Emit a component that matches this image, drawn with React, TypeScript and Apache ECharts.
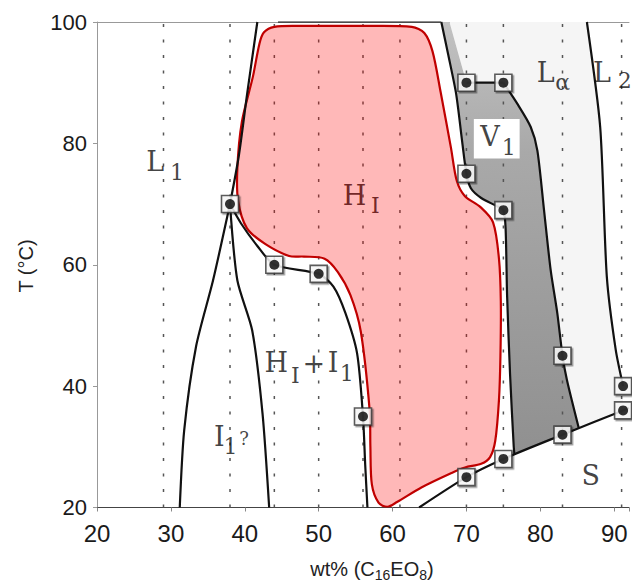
import React, { useEffect, useRef } from "react";
import * as echarts from "echarts";

// ---- axes ----
const xMin = 20;
const xMax = 92;
const yMin = 20;
const yMax = 100;
const xTickStep = 10;
const yTickStep = 20;

// dotted vertical guide lines (wt%)
const dottedX = [29, 38, 44, 50, 56, 61, 70, 75, 83, 91];

// measured points (wt%, T)
const markers = [
  [38, 70], [44, 60], [50, 58.5], [56, 35],
  [70, 90], [75, 90], [70, 75], [75, 69],
  [83, 45], [83, 32], [75, 28], [70, 25],
  [91.2, 40], [91.2, 36],
];

// phase boundaries (wt%, T)
const lineL1H = [[38, 70], [39.2, 78], [40.3, 88], [41.7, 100]];
const lineI1Left = [[38, 70], [35.7, 57.4], [33.4, 46.5], [31.8, 32.7], [31.2, 20]];
const lineI1Right = [[38, 70], [39, 57.4], [41, 49.2], [42.4, 35.5], [43.3, 20]];
const lineHIlower = [[38, 70], [39.5, 66.8], [41.7, 63.1], [44, 60], [50, 58.5], [52, 56.4], [53.6, 52.1], [55.2, 45.4], [56, 35], [56.3, 27], [56.6, 20]];
const lineHIright = [[66.6, 100], [67.5, 94.8], [68.6, 88.2], [69.4, 80.5], [70, 75], [70.6, 72.6], [72, 71], [74.2, 69.6], [75, 69], [75.3, 66], [75.5, 55], [75.9, 42], [76.4, 30], [76.5, 28.75]];
const lineV1top = [[70, 90], [75, 90]];
const lineV1right = [[75, 90], [76.9, 86.5], [78.7, 82.7], [79.6, 78.8], [80.5, 69], [81.4, 59.1], [82.3, 52], [83, 45], [83.6, 41], [85.2, 33.1]];
const lineS = [[63.6, 20], [70, 25], [75, 28], [83, 32], [91.2, 36], [92, 36.4]];
const lineL2 = [[86.3, 100], [88.1, 82.7], [89, 58], [90.2, 46], [91.2, 40]];
const lineTopEdge = [[44.5, 100], [66.6, 100]];

// regions
const hiRegion = [
  [42.6, 98.3], [44, 99.2], [47.6, 99.35], [55.8, 99.35], [62.6, 99.2], [64.3, 98.2], [65.4, 95.2],
  [66.5, 88.5], [67.9, 79.3], [68.7, 73.8], [69.8, 71.3], [71.9, 69.5], [73.6, 67], [74.4, 61],
  [74.65, 54], [74.6, 45], [74.4, 37.7], [73.9, 31], [73.2, 28.3], [72, 27.2], [69.8, 26.6],
  [68, 25.7], [63.9, 23.3], [60.6, 20.9], [59.3, 20.1], [58.1, 20.8], [57.2, 23.8], [57, 30],
  [56.9, 36], [55.7, 49], [54.3, 55], [52.6, 58.8], [50.8, 61], [48, 61.35], [46, 61.45],
  [42.8, 63.4], [40.3, 66], [39.1, 70.5], [39, 76], [39.6, 83.5], [41.1, 91], [42, 96.5],
];
const v1Region = [
  [66.6, 100], [67.5, 94.8], [68.6, 88.2], [69.4, 80.5], [70, 75], [70.6, 72.6], [72, 71], [74.2, 69.6],
  [75, 69], [75.3, 66], [75.5, 55], [75.9, 42], [76.4, 30], [76.5, 28.75], [83, 32], [85.2, 33.1],
  [83.6, 41], [83, 45], [82.3, 52], [81.4, 59.1], [80.5, 69], [79.6, 78.8], [78.7, 82.7], [76.9, 86.5],
  [75, 90], [70, 90], [67.7, 100],
];
const laRegion = [
  [67.7, 100], [70, 90], [75, 90], [76.9, 86.5], [78.7, 82.7], [79.6, 78.8], [80.5, 69], [81.4, 59.1],
  [82.3, 52], [83, 45], [83.6, 41], [85.2, 33.1], [91.2, 36], [91.2, 40], [90.2, 46], [89, 58],
  [88.1, 82.7], [86.3, 100],
];
const v1LabelBox = [[71, 84], [77.2, 84], [77.2, 77.5], [71, 77.5]];

// phase labels: text, wt%, T (left edge / vertical centre), font size
const phaseLabels = [
  { text: "L", x: 26.6, y: 77.05, size: 27 },
  { text: "1", x: 29.8, y: 75.2, size: 22 },
  { text: "H", x: 53.2, y: 71.35, size: 27, color: "#4d0000" },
  { text: "I", x: 57.0, y: 69.8, size: 22, color: "#4d0000" },
  { text: "H", x: 42.6, y: 43.97, size: 27 },
  { text: "I", x: 46.2, y: 41.7, size: 22 },
  { text: "+", x: 47.75, y: 43.7, size: 27 },
  { text: "I", x: 51.15, y: 43.97, size: 27 },
  { text: "1", x: 52.8, y: 42.1, size: 22 },
  { text: "I", x: 35.75, y: 31.76, size: 27 },
  { text: "1", x: 37.05, y: 30.1, size: 22 },
  { text: "?", x: 39.2, y: 31.35, size: 18 },
  { text: "V", x: 71.8, y: 81.2, size: 27 },
  { text: "1", x: 74.7, y: 79.4, size: 22 },
  { text: "L", x: 79.45, y: 91.6, size: 27 },
  { text: "α", x: 81.95, y: 90.1, size: 22 },
  { text: "L", x: 87.05, y: 91.6, size: 27 },
  { text: "2", x: 90.4, y: 90.4, size: 22 },
  { text: "S", x: 85.5, y: 25.3, size: 27 },
];

const xTitleParts = [
  { t: "wt% (C", sub: false },
  { t: "16", sub: true },
  { t: "EO", sub: false },
  { t: "8", sub: true },
  { t: ")", sub: false },
];
const yTitle = "T (°C)";

const SANS = "'Liberation Sans', Arial, sans-serif";
const SERIF = "'DejaVu Serif', serif";

function polySeries(pts: number[][], style: any, z: number, smooth = 0) {
  return {
    type: "custom",
    coordinateSystem: "cartesian2d",
    silent: true,
    z,
    clip: true,
    data: [pts[0]],
    renderItem: (_p: any, api: any) => ({
      type: "polygon",
      shape: { points: pts.map((p) => api.coord(p)), smooth },
      style,
    }),
  };
}

function lineSeries(pts: number[][], z: number, width = 2.2, smooth = 0.25, color = "#111") {
  return {
    type: "line",
    data: pts,
    z,
    silent: true,
    symbol: "none",
    smooth,
    clip: true,
    lineStyle: { color, width },
  };
}

export default function App() {
  const ref = useRef<HTMLDivElement>(null);
  useEffect(() => {
    const chart = echarts.init(ref.current!, undefined, { renderer: "svg", width: 632, height: 583 });

    const series: any[] = [];
    series.push(polySeries(laRegion, { fill: "#f5f5f5" }, 1));
    series.push(
      polySeries(
        v1Region,
        {
          fill: new echarts.graphic.LinearGradient(0, 0, 0, 1, [
            { offset: 0, color: "#c2c2c2" },
            { offset: 0.3, color: "#a9a9a9" },
            { offset: 1, color: "#909090" },
          ]),
        },
        1
      )
    );
    dottedX.forEach((x) => {
      series.push({
        type: "line",
        data: [[x, yMin], [x, yMax]],
        z: 2,
        silent: true,
        symbol: "none",
        lineStyle: { color: "#555", width: 1.5, type: [3, 12.5] },
      });
    });
    series.push(polySeries(hiRegion, { fill: "rgba(255,0,0,0.28)", stroke: "#c00000", lineWidth: 2.2 }, 3, 0.3));
    [lineL1H, lineI1Left, lineI1Right, lineHIlower, lineHIright, lineV1top, lineV1right, lineS, lineL2].forEach(
      (l) => series.push(lineSeries(l, 4))
    );
    series.push(lineSeries(lineTopEdge, 4, 1.6, 0, "#333"));
    series.push(polySeries(v1LabelBox, { fill: "#ffffff" }, 5));
    series.push({
      type: "scatter",
      data: markers,
      z: 6,
      silent: true,
      symbol: "rect",
      symbolSize: 17,
      itemStyle: {
        color: "#ffffff",
        borderColor: "#333",
        borderWidth: 1.6,
        shadowColor: "rgba(0,0,0,0.45)",
        shadowOffsetX: 1.5,
        shadowOffsetY: 1.5,
        shadowBlur: 1,
      },
    });
    series.push({
      type: "scatter",
      data: markers,
      z: 7,
      silent: true,
      symbol: "circle",
      symbolSize: 10,
      itemStyle: { color: "#000" },
    });
    series.push({
      type: "scatter",
      z: 8,
      silent: true,
      symbolSize: 1,
      itemStyle: { color: "rgba(0,0,0,0)" },
      label: { show: true, position: "right", distance: 0, fontFamily: SERIF, color: "#111" },
      data: phaseLabels.map((l) => ({
        value: [l.x, l.y],
        label: { formatter: l.text, fontSize: l.size, color: l.color || "#111" },
      })),
    });

    // axis titles with subscripts
    const canvas = document.createElement("canvas");
    const ctx = canvas.getContext("2d")!;
    const mainSize = 20;
    const subSize = 14;
    const widths = xTitleParts.map((p) => {
      ctx.font = `${p.sub ? subSize : mainSize}px 'Liberation Sans'`;
      return ctx.measureText(p.t).width;
    });
    const total = widths.reduce((a, b) => a + b, 0);
    let cx = 372 - total / 2;
    const titleY = 569;
    const graphic: any[] = xTitleParts.map((p, i) => {
      const el = {
        type: "text",
        x: cx,
        y: titleY + (p.sub ? 6 : 0),
        silent: true,
        style: {
          text: p.t,
          fontSize: p.sub ? subSize : mainSize,
          fontFamily: SANS,
          fill: "#222",
          align: "left",
          verticalAlign: "middle",
        },
      };
      cx += widths[i];
      return el;
    });
    graphic.push({
      type: "text",
      x: 26,
      y: 266,
      rotation: Math.PI / 2,
      silent: true,
      style: {
        text: yTitle,
        fontSize: 20,
        fontFamily: SANS,
        fill: "#222",
        align: "center",
        verticalAlign: "middle",
      },
    });

    chart.setOption({
      animation: false,
      backgroundColor: "#ffffff",
      grid: { left: 97, right: 0, top: 22, bottom: 75.5 },
      xAxis: [
        {
          type: "value",
          min: xMin,
          max: xMax,
          interval: xTickStep,
          position: "bottom",
          axisLine: { show: true, onZero: false, lineStyle: { color: "#444", width: 1.2 } },
          axisTick: { show: true, length: 4, lineStyle: { color: "#888" } },
          axisLabel: {
            fontSize: 24,
            color: "#1a1a1a",
            fontFamily: SANS,
            margin: 14,
            formatter: (v: number) => (v % 10 === 0 ? String(v) : ""),
          },
          splitLine: { show: false },
        },
        {
          type: "value",
          min: xMin,
          max: xMax,
          position: "top",
          axisLine: { show: true, onZero: false, lineStyle: { color: "#999", width: 1 } },
          axisTick: { show: false },
          axisLabel: { show: false },
          splitLine: { show: false },
        },
      ],
      yAxis: {
        type: "value",
        min: yMin,
        max: yMax,
        interval: yTickStep,
        axisLine: { show: true, lineStyle: { color: "#999", width: 1 } },
        axisTick: { show: true, length: 4, lineStyle: { color: "#999" } },
        axisLabel: { fontSize: 22, color: "#1a1a1a", fontFamily: SANS, margin: 10 },
        splitLine: { show: false },
      },
      series,
      graphic,
    });
    return () => chart.dispose();
  }, []);
  return (
    <div
      ref={ref}
      style={{ position: "fixed", left: 0, top: 0, width: 632, height: 583, background: "#fff" }}
    />
  );
}
